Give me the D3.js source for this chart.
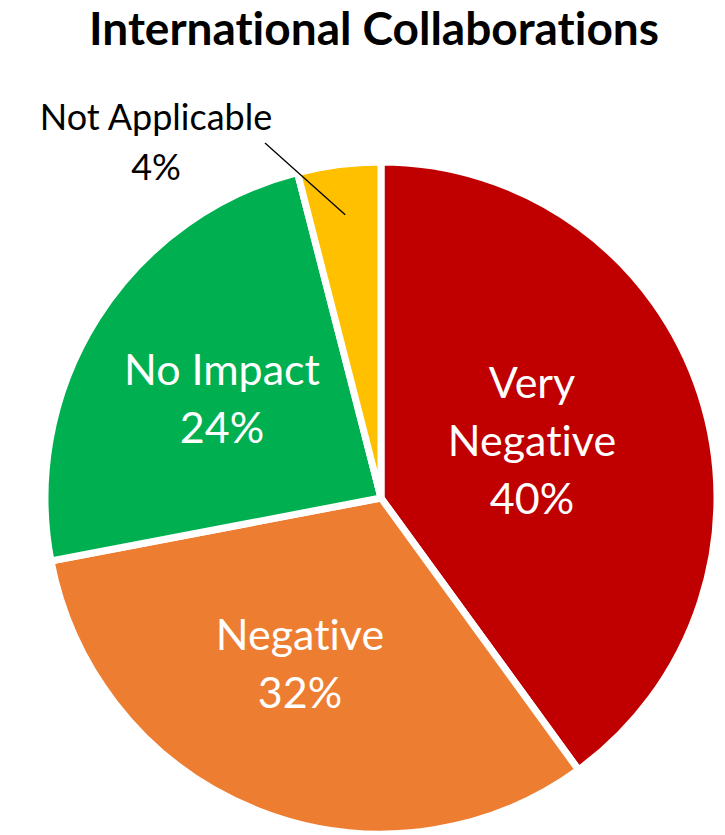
<!DOCTYPE html>
<html>
<head>
<meta charset="utf-8">
<script src="https://cdn.jsdelivr.net/npm/d3@7"></script>
<style>
  body { margin: 0; background: #fff; }
  svg text { font-family: Lato, "Open Sans", sans-serif; font-variant-ligatures: none; font-feature-settings: "liga" 0; }
</style>
</head>
<body>
<div id="chart"></div>
<script>
// data
const categories = ["Very Negative", "Negative", "No Impact", "Not Applicable"];
const values = [40, 32, 24, 4];
const colors = ["#C00000", "#ED7D31", "#00B050", "#FFC000"];

const width = 725, height = 835;
const cx = 381, cy = 498, radius = 336;

const svg = d3.select("#chart").append("svg")
    .attr("width", width)
    .attr("height", height);

// title
svg.append("text")
    .attr("x", 374)
    .attr("y", 45)
    .attr("text-anchor", "middle")
    .attr("font-size", 46)
    .attr("font-weight", "bold")
    .attr("fill", "#000")
    .text("International Collaborations");

const pie = d3.pie().sort(null).value(d => d);
const arcs = pie(values);
const arc = d3.arc().innerRadius(0).outerRadius(radius);

const g = svg.append("g").attr("transform", `translate(${cx},${cy})`);

g.selectAll("path")
    .data(arcs)
    .enter().append("path")
    .attr("d", arc)
    .attr("fill", (d, i) => colors[i])
    .attr("stroke", "#fff")
    .attr("stroke-width", 7)
    .attr("stroke-linejoin", "miter");

// inside labels, positions
const labelPos = [
    { lines: ["Very", categories[0].split(" ")[1], values[0] + "%"], x: 532, y: 383 },
    { lines: [categories[1], values[1] + "%"], x: 300, y: 635 },
    { lines: [categories[2], values[2] + "%"], x: 222, y: 370 }
];
labelPos.forEach(l => {
    l.lines.forEach((t, j) => {
        svg.append("text")
            .attr("x", l.x)
            .attr("y", l.y + j * 58)
            .attr("dy", "0.36em")
            .attr("text-anchor", "middle")
            .attr("font-size", 43)
            .attr("fill", "#fff")
            .text(t);
    });
});

// outside label for the small slice, with leader line
const small = arcs[3];
const inner = d3.arc().innerRadius(radius * 0.85).outerRadius(radius * 0.85).centroid(small);
svg.append("line")
    .attr("x1", 265)
    .attr("y1", 143)
    .attr("x2", cx + inner[0])
    .attr("y2", cy + inner[1])
    .attr("stroke", "#000")
    .attr("stroke-width", 1.3);

[categories[3], values[3] + "%"].forEach((t, j) => {
    svg.append("text")
        .attr("x", 156)
        .attr("y", 130 + j * 50)
        .attr("text-anchor", "middle")
        .attr("font-size", 36)
        .attr("fill", "#000")
        .text(t);
});
</script>
</body>
</html>
